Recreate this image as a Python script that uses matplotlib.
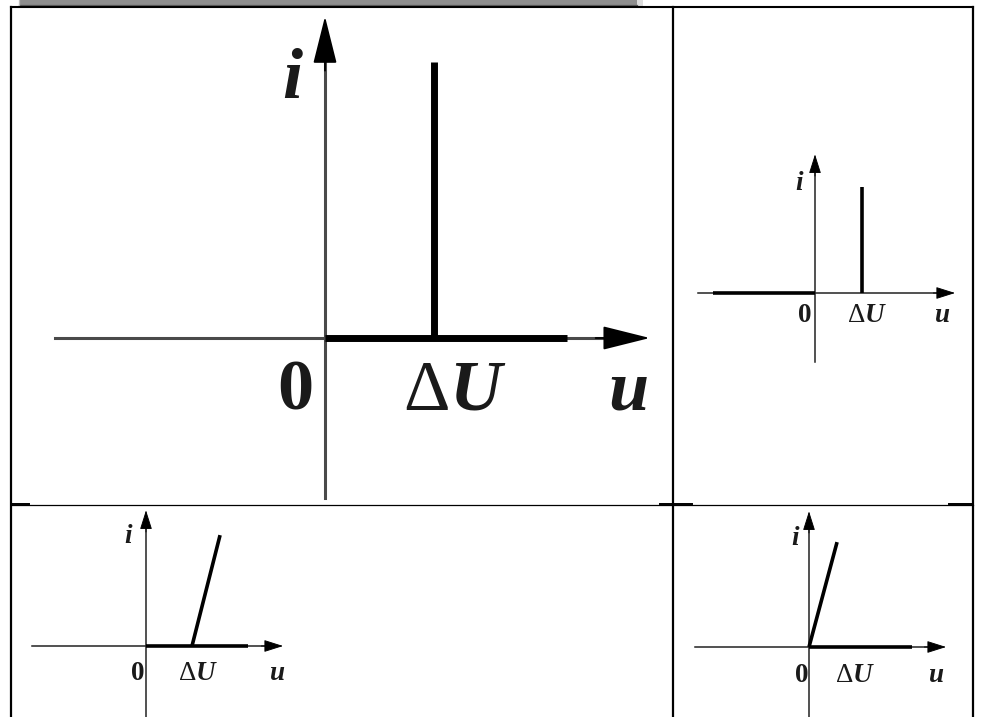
import matplotlib
matplotlib.use('Agg')
import matplotlib.pyplot as plt
from matplotlib.patches import Rectangle

plt.rcParams['font.family'] = ['Liberation Serif', 'DejaVu Serif']
plt.rcParams['mathtext.fontset'] = 'custom'
plt.rcParams['mathtext.rm'] = 'Liberation Serif'
plt.rcParams['mathtext.it'] = 'Liberation Serif:italic:bold'
plt.rcParams['mathtext.bf'] = 'Liberation Serif:bold'

W, H = 981, 717

# table grid, pixels
col_x = [11, 673, 973]
row_y = [7, 505, 717]

# axis extents, in units of dU
u_axis = [-2.48, 2.98]
i_top = 2.95

# the four characteristics (u in units of dU)
names = ['big', 'top_right', 'bottom_left', 'bottom_right']
thick_u = [[0, 2.22], [-2.17, 0], [0, 2.22], [0, 2.24]]
char_u = [[1.0, 1.0], [1.0, 1.0], [1.0, 1.61], [0.0, 0.61]]
char_i = [[0.0, 2.53], [0.0, 2.26], [0.0, 2.41], [0.0, 2.28]]
i_bottom = [-1.47, -1.47, -1.55, -1.55]

# label positions: x of i, 0, dU, u and baselines
label_x = [[-0.30, -0.27, 1.19, 2.78],
           [-0.34, -0.21, 1.10, 2.72],
           [-0.39, -0.17, 1.13, 2.87],
           [-0.30, -0.15, 1.00, 2.78]]
i_base = [2.2, 2.19, 2.24, 2.22]
lbl_base = [-0.66, -0.62, -0.74, -0.76]
labels = ['i', '0', r'$\Delta U$', 'u']

# panel placement: origin in pixels and pixels per dU
origins = [(325, 338), (815, 293), (146, 646), (809, 647)]
scales = [109, 47, 46, 46]
font_sz = [52, 19.5, 19.5, 19.5]
axis_lw = [2.2, 1.1, 1.1, 1.1]
thick_lw = [5.0, 2.6, 2.6, 2.6]
axis_col = ['#4a4a4a', '#222222', '#222222', '#222222']
head = [(3.0, 0.75), (1.2, 0.38), (1.2, 0.38), (1.2, 0.38)]

fig = plt.figure(figsize=(W / 100, H / 100), dpi=100)

# background table
bg = fig.add_axes([0, 0, 1, 1])
bg.set_xlim(0, W)
bg.set_ylim(H, 0)
bg.axis('off')
bg.add_patch(Rectangle((19, -1), 618, 6.5, facecolor='#8e8e8e', edgecolor='none'))
bg.plot([19, 637], [5, 5], color='#5a5a5a', lw=0.9)
bg.plot([19, 19], [-1, 5], color='#bdbdbd', lw=0.9)
bg.add_patch(Rectangle((637, -1), 6, 6.5, facecolor='#dcdcdc', edgecolor='none'))
bg.plot([col_x[0], col_x[-1]], [row_y[0], row_y[0]], color='black', lw=1.5)
for x in col_x:
    bg.plot([x, x], [row_y[0], row_y[-1]], color='black', lw=1.6)
bg.plot([col_x[0], col_x[-1]], [row_y[1], row_y[1]], color='black', lw=0.9)
for a, b in [(11, 29), (660, 692), (949, 973)]:
    bg.plot([a, b], [row_y[1] - 0.6, row_y[1] - 0.6], color='black', lw=1.4)

pad_l, pad_r, pad_t = 2.7, 3.15, 3.1
for k in range(4):
    ox, oy = origins[k]
    s = scales[k]
    ib = i_bottom[k] - 0.05
    left = (ox + -pad_l * s) / W
    bottom = 1 - (oy - ib * s) / H
    ax = fig.add_axes([left, bottom, (pad_l + pad_r) * s / W, (pad_t - ib) * s / H])
    ax.set_xlim(-pad_l, pad_r)
    ax.set_ylim(ib, pad_t)
    ax.axis('off')

    # axis shafts
    hl, hw = head[k]
    hl_data = hl * 10 / 72 * 100 / s
    ax.plot([u_axis[0], u_axis[1] - hl_data * 0.8], [0, 0], color=axis_col[k], lw=axis_lw[k])
    ax.plot([0, 0], [i_bottom[k], i_top - hl_data * 0.8], color=axis_col[k], lw=axis_lw[k])
    # arrow heads
    style = '-|>,head_length=%g,head_width=%g' % (hl, hw)
    ap = dict(arrowstyle=style, color='black', lw=axis_lw[k] * 0.6,
              mutation_scale=10, shrinkA=0, shrinkB=0)
    ax.annotate('', xy=(u_axis[1], 0), xytext=(u_axis[1] - hl_data * 1.3, 0), arrowprops=ap)
    ax.annotate('', xy=(0, i_top), xytext=(0, i_top - hl_data * 1.3), arrowprops=ap)

    ax.plot(thick_u[k], [0, 0], color='black', lw=thick_lw[k], solid_capstyle='butt')
    ax.plot(char_u[k], char_i[k], color='black', lw=thick_lw[k], solid_capstyle='butt')

    lx = label_x[k]
    tc = '#1a1a1a'
    ax.text(lx[0], i_base[k], labels[0], fontsize=font_sz[k], ha='center', va='baseline',
            color=tc, fontweight='bold', fontstyle='italic')
    ax.text(lx[1], lbl_base[k], labels[1], fontsize=font_sz[k], ha='center',
            va='baseline', color=tc, fontweight='bold')
    ax.text(lx[2], lbl_base[k], labels[2], fontsize=font_sz[k], ha='center',
            va='baseline', color=tc)
    ax.text(lx[3], lbl_base[k], labels[3], fontsize=font_sz[k], ha='center',
            va='baseline', color=tc, fontweight='bold', fontstyle='italic')

fig.savefig('out.png', dpi=100)
